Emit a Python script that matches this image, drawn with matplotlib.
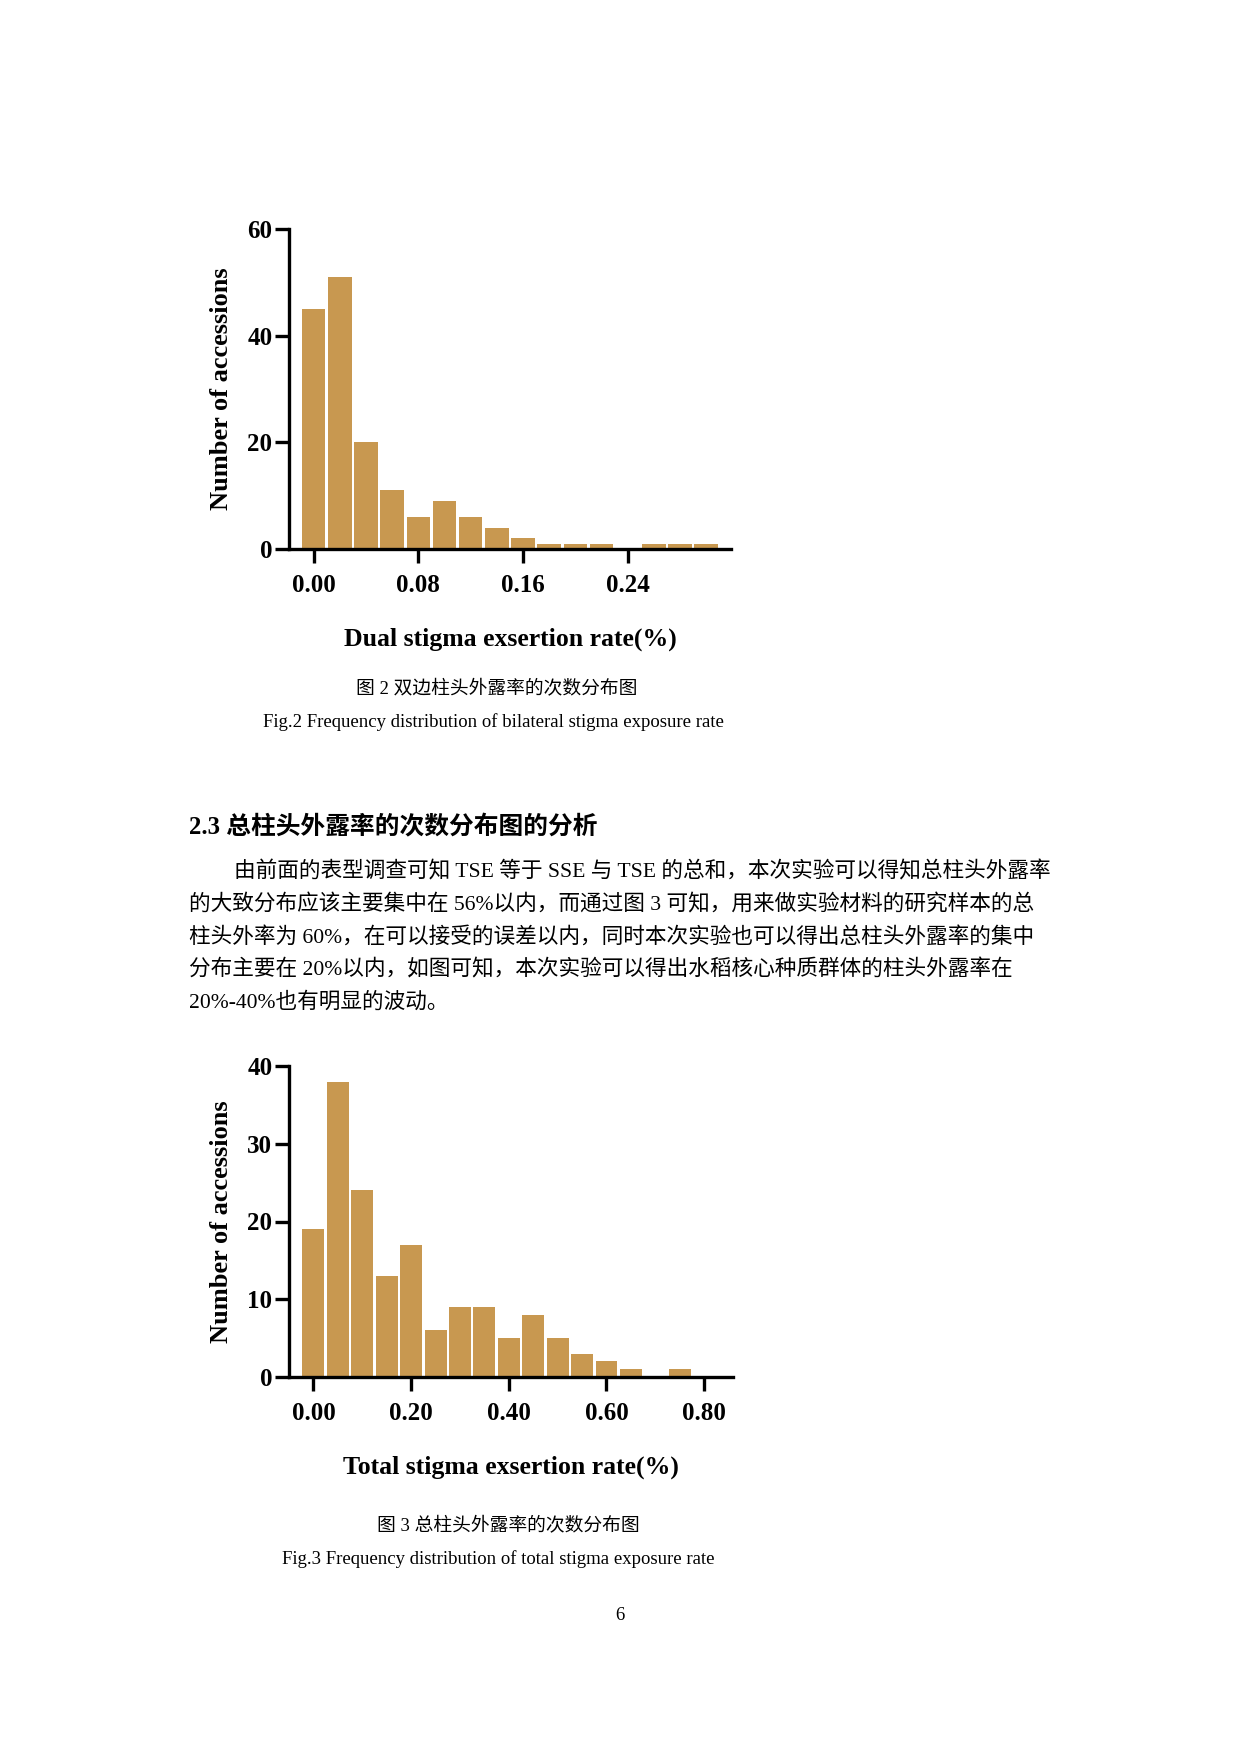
import numpy as np
import matplotlib.pyplot as plt

plt.rcParams['font.family'] = ['Liberation Serif', 'Noto Sans CJK SC']

# Fig.2 data: bin centers step 0.02
dual_centers = np.arange(16) * 0.02
dual_counts = [45, 51, 20, 11, 6, 9, 6, 4, 2, 1, 1, 1, 0, 1, 1, 1]
dual_ticks = [0.00, 0.08, 0.16, 0.24]
dual_yticks = [0, 20, 40, 60]

# Fig.3 data: bin centers step 0.05
total_centers = np.arange(16) * 0.05
total_counts = [19, 38, 24, 13, 17, 6, 9, 9, 5, 8, 5, 3, 2, 1, 0, 1]
total_ticks = [0.00, 0.20, 0.40, 0.60, 0.80]
total_yticks = [0, 10, 20, 30, 40]

BAR = '#C89850'
W, H = 1240, 1754

fig = plt.figure(figsize=(12.4, 17.54), dpi=100)


def hist_axes(rect, centers, counts, width, xlim, ylim, xticks, yticks, xlabel):
    ax = fig.add_axes(rect)
    counts = np.array(counts)
    ax.bar(centers[counts > 0], counts[counts > 0], width=width * 0.9,
           color=BAR, edgecolor='none')
    ax.set_xlim(*xlim)
    ax.set_ylim(*ylim)
    ax.set_xticks(xticks)
    ax.set_xticklabels(['%.2f' % t for t in xticks])
    ax.set_yticks(yticks)
    for s in ['top', 'right']:
        ax.spines[s].set_visible(False)
    for s in ['left', 'bottom']:
        ax.spines[s].set_linewidth(2.4)
    ax.tick_params(axis='x', direction='out', length=10, width=2.4, pad=8)
    ax.tick_params(axis='y', direction='out', length=10, width=2.4, pad=2)
    for lab in ax.get_xticklabels() + ax.get_yticklabels():
        lab.set_fontsize(18)
        lab.set_fontweight('bold')
    ax.set_xlabel(xlabel, fontsize=18.5, fontweight='bold', labelpad=22)
    ax.set_ylabel('Number of accessions', fontsize=19, fontweight='bold', labelpad=10)
    return ax


hist_axes([289 / W, 1 - 549 / H, 442 / W, 320 / H], dual_centers, dual_counts, 0.02,
          (-0.0188, 0.319), (0, 60), dual_ticks, dual_yticks,
          'Dual stigma exsertion rate(%)')
hist_axes([289 / W, 1 - 1377 / H, 444 / W, 311 / H], total_centers, total_counts, 0.05,
          (-0.05, 0.859), (0, 40), total_ticks, total_yticks,
          'Total stigma exsertion rate(%)')


def t(x, y, s, **kw):
    fig.text(x / W, 1 - y / H, s, va='center', **kw)


t(497, 688, '图 2 双边柱头外露率的次数分布图', ha='center', fontsize=13.5)
t(493, 722, 'Fig.2 Frequency distribution of bilateral stigma exposure rate', ha='center', fontsize=13.5)
t(189, 827, '2.3 总柱头外露率的次数分布图的分析', ha='left', fontsize=17.8, fontweight='bold')

para = [
    '由前面的表型调查可知 TSE 等于 SSE 与 TSE 的总和，本次实验可以得知总柱头外露率',
    '的大致分布应该主要集中在 56%以内，而通过图 3 可知，用来做实验材料的研究样本的总',
    '柱头外率为 60%，在可以接受的误差以内，同时本次实验也可以得出总柱头外露率的集中',
    '分布主要在 20%以内，如图可知，本次实验可以得出水稻核心种质群体的柱头外露率在',
    '20%-40%也有明显的波动。',
]
for i, line in enumerate(para):
    x0 = 234 if i == 0 else 189
    t(x0, 872 + i * 32.5, line, ha='left', fontsize=15.6)

t(508, 1525, '图 3 总柱头外露率的次数分布图', ha='center', fontsize=13.5)
t(498, 1559, 'Fig.3 Frequency distribution of total stigma exposure rate', ha='center', fontsize=13.5)
t(620, 1615, '6', ha='center', fontsize=13.5)

fig.savefig('out.png', dpi=100)
